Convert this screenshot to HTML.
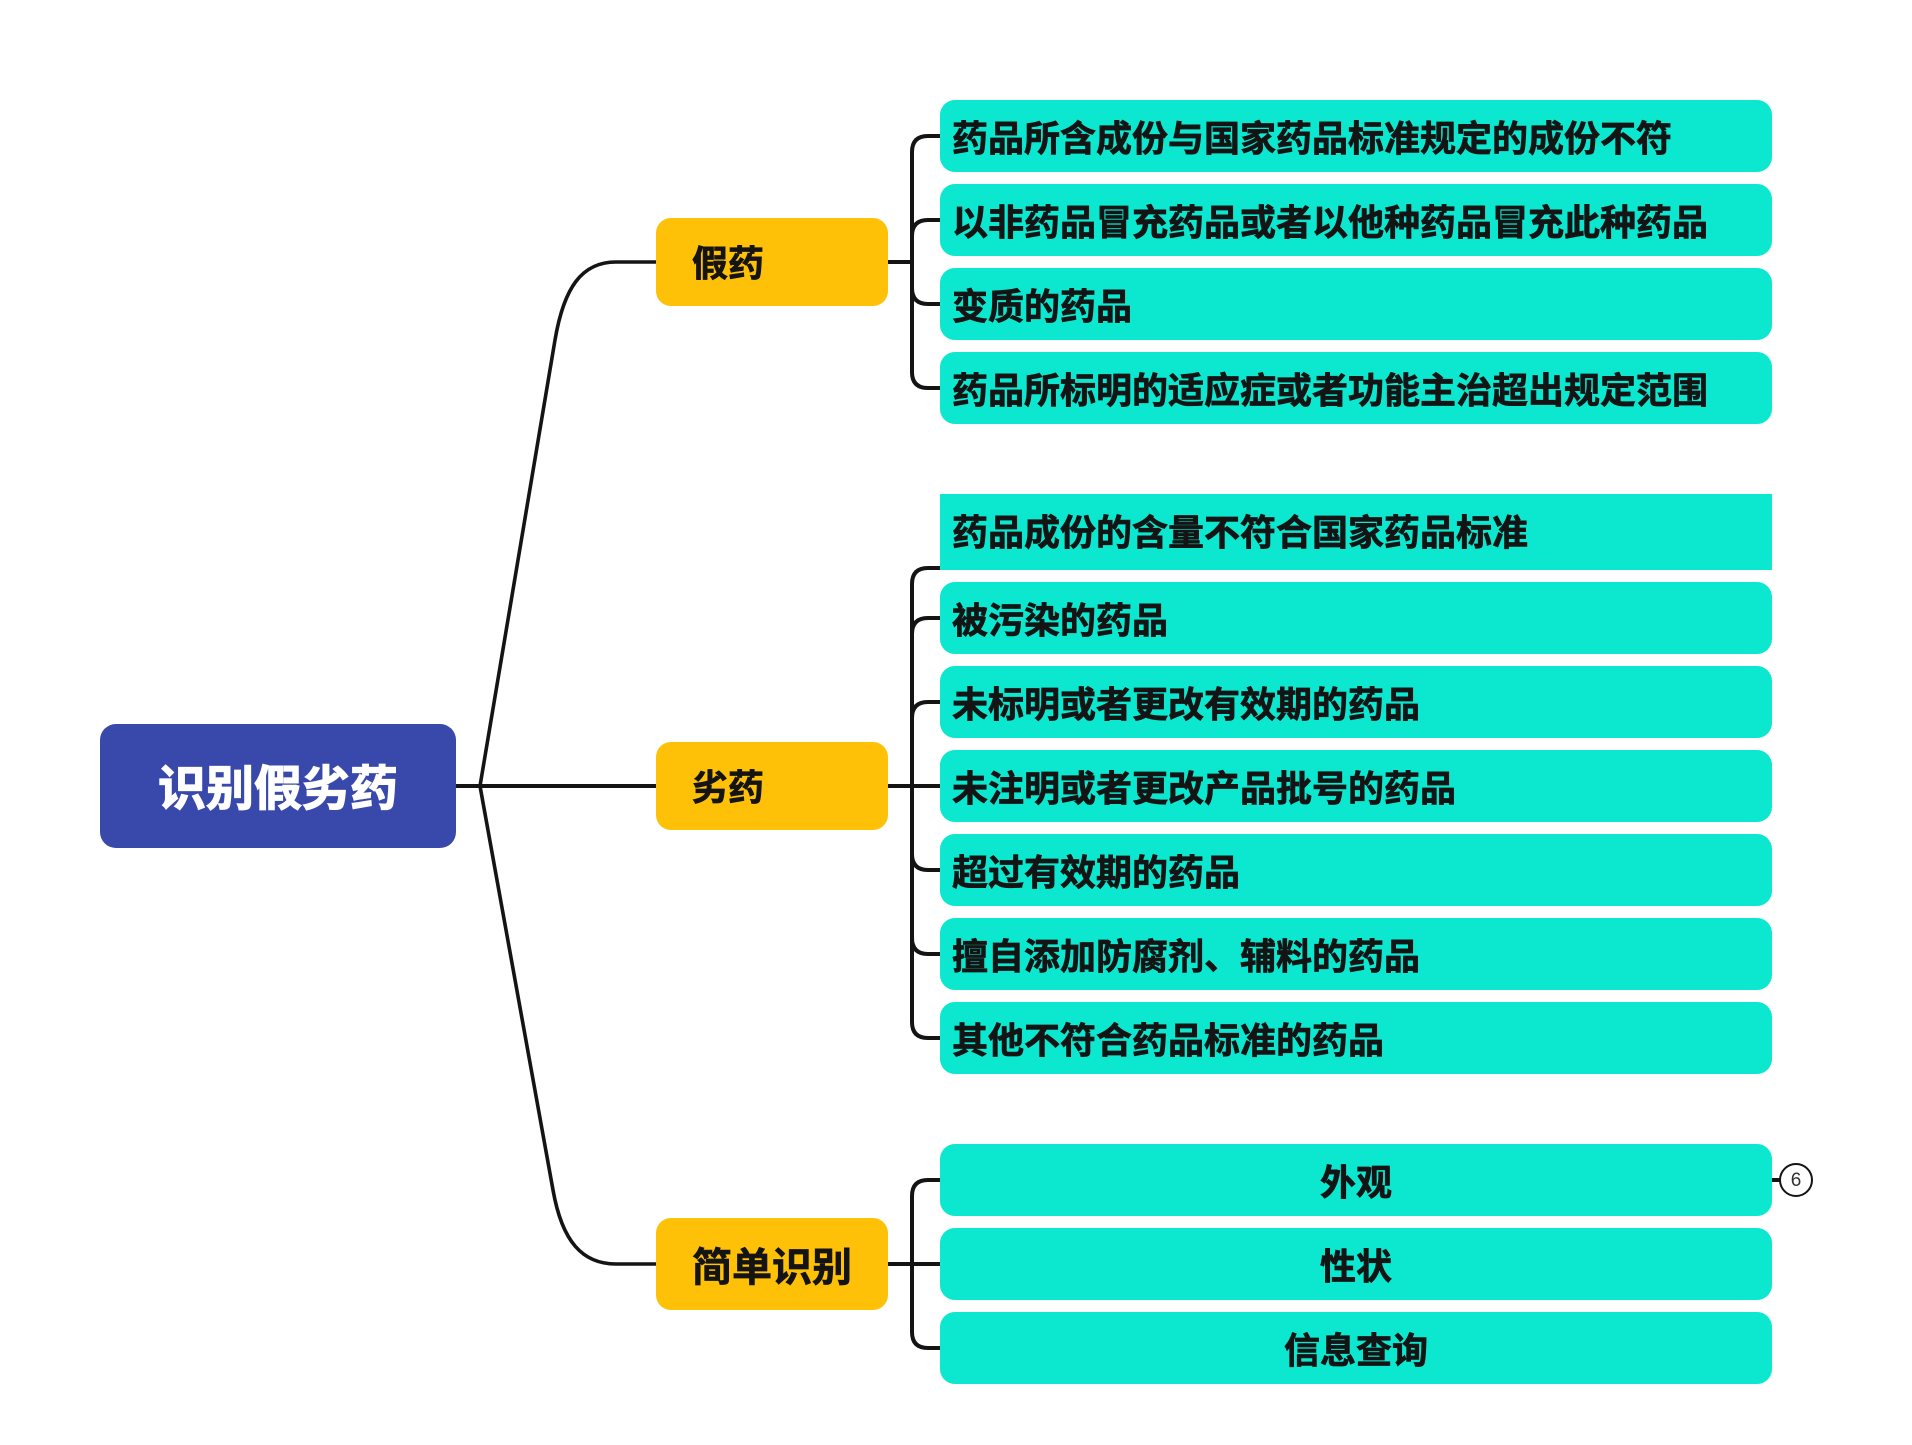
<!DOCTYPE html>
<html lang="zh">
<head>
<meta charset="utf-8">
<title>识别假劣药</title>
<style>
html,body{margin:0;padding:0;background:#fff;}
svg{display:block;}
text{font-family:"Liberation Sans","Noto Sans CJK SC",sans-serif;font-weight:700;fill:#141414;stroke:#141414;stroke-width:.7px;}
.c{font-size:36px;}
.m{text-anchor:middle;}
.box{fill:#0CE8D0;}
.org{fill:#FFC107;}
.ln{fill:none;stroke:#141414;stroke-width:4;}
.cv{fill:none;stroke:#141414;stroke-width:3.6;}
</style>
</head>
<body>
<svg width="1912" height="1445" viewBox="0 0 1912 1445" xmlns="http://www.w3.org/2000/svg">
<rect width="1912" height="1445" fill="#fff"/>

<!-- root connectors -->
<path class="ln" d="M456 786H656"/>
<path class="cv" d="M480 786L555 340C564 287 582 262 616 262H656"/>
<path class="cv" d="M480 786L553 1190C562 1241 582 1264 616 1264H656"/>

<!-- group 1 connectors -->
<path class="ln" d="M888 262H912"/>
<path class="ln" d="M940 136H928Q912 136 912 152V372Q912 388 928 388H940"/>
<path class="ln" d="M940 220H928Q912 220 912 236"/>
<path class="ln" d="M912 288Q912 304 928 304H940"/>

<!-- group 2 connectors -->
<path class="ln" d="M888 786H940"/>
<path class="ln" d="M940 568H928Q912 568 912 584V1022Q912 1038 928 1038H940"/>
<path class="ln" d="M940 618H928Q912 618 912 634"/>
<path class="ln" d="M940 702H928Q912 702 912 718"/>
<path class="ln" d="M912 854Q912 870 928 870H940"/>
<path class="ln" d="M912 938Q912 954 928 954H940"/>

<!-- group 3 connectors -->
<path class="ln" d="M888 1264H940"/>
<path class="ln" d="M940 1180H928Q912 1180 912 1196V1332Q912 1348 928 1348H940"/>

<!-- root -->
<rect x="100" y="724" width="356" height="124" rx="16" fill="#3949AB"/>
<text x="158" y="805" font-size="48" style="fill:#fff;stroke:#fff;stroke-width:1.2px">识别假劣药</text>

<!-- branch nodes -->
<rect class="org" x="656" y="218" width="232" height="88" rx="15"/>
<text x="692" y="276" font-size="36">假药</text>
<rect class="org" x="656" y="742" width="232" height="88" rx="15"/>
<text x="692" y="800" font-size="36">劣药</text>
<rect class="org" x="656" y="1218" width="232" height="92" rx="15"/>
<text x="692" y="1281" font-size="40">简单识别</text>

<!-- group 1 leaves -->
<rect class="box" x="940" y="100" width="832" height="72" rx="15"/>
<text class="c" x="952" y="151">药品所含成份与国家药品标准规定的成份不符</text>
<rect class="box" x="940" y="184" width="832" height="72" rx="15"/>
<text class="c" x="952" y="235">以非药品冒充药品或者以他种药品冒充此种药品</text>
<rect class="box" x="940" y="268" width="832" height="72" rx="15"/>
<text class="c" x="952" y="319">变质的药品</text>
<rect class="box" x="940" y="352" width="832" height="72" rx="15"/>
<text class="c" x="952" y="403">药品所标明的适应症或者功能主治超出规定范围</text>

<!-- group 2 leaves -->
<rect class="box" x="940" y="494" width="832" height="76"/>
<text class="c" x="952" y="545">药品成份的含量不符合国家药品标准</text>
<rect class="box" x="940" y="582" width="832" height="72" rx="15"/>
<text class="c" x="952" y="633">被污染的药品</text>
<rect class="box" x="940" y="666" width="832" height="72" rx="15"/>
<text class="c" x="952" y="717">未标明或者更改有效期的药品</text>
<rect class="box" x="940" y="750" width="832" height="72" rx="15"/>
<text class="c" x="952" y="801">未注明或者更改产品批号的药品</text>
<rect class="box" x="940" y="834" width="832" height="72" rx="15"/>
<text class="c" x="952" y="885">超过有效期的药品</text>
<rect class="box" x="940" y="918" width="832" height="72" rx="15"/>
<text class="c" x="952" y="969">擅自添加防腐剂、辅料的药品</text>
<rect class="box" x="940" y="1002" width="832" height="72" rx="15"/>
<text class="c" x="952" y="1053">其他不符合药品标准的药品</text>

<!-- group 3 leaves -->
<rect class="box" x="940" y="1144" width="832" height="72" rx="15"/>
<text class="c m" x="1356" y="1195">外观</text>
<rect class="box" x="940" y="1228" width="832" height="72" rx="15"/>
<text class="c m" x="1356" y="1279">性状</text>
<rect class="box" x="940" y="1312" width="832" height="72" rx="15"/>
<text class="c m" x="1356" y="1363">信息查询</text>

<!-- collapsed badge -->
<path d="M1772 1180H1780" fill="none" stroke="#141414" stroke-width="4"/>
<circle cx="1796" cy="1180" r="16" fill="#fff" stroke="#141414" stroke-width="2"/>
<text x="1796" y="1186" font-size="19" text-anchor="middle" style="font-weight:400;fill:#333;stroke:none">6</text>
</svg>
</body>
</html>
